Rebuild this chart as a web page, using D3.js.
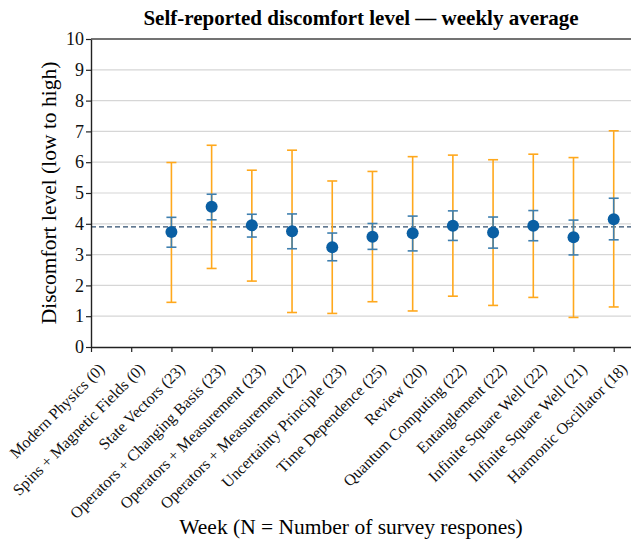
<!DOCTYPE html>
<html>
<head>
<meta charset="utf-8">
<script src="https://cdn.jsdelivr.net/npm/d3@7"></script>
<style>
  body { margin: 0; background: #fff; }
</style>
</head>
<body>
<div id="chart"></div>
<script>
const weeks = ['Modern Physics (0)', 'Spins + Magnetic Fields (0)', 'State Vectors (23)',
  'Operators + Changing Basis (23)', 'Operators + Measurement (23)', 'Operators + Measurement (22)',
  'Uncertainty Principle (23)', 'Time Dependence (25)', 'Review (20)', 'Quantum Computing (22)',
  'Entanglement (22)', 'Infinite Square Well (22)', 'Infinite Square Well (21)', 'Harmonic Oscillator (18)'];

// mean, standard error (blue) and standard deviation (orange) ranges
const means   = [null, null, 3.73, 4.55, 3.95, 3.76, 3.24, 3.58, 3.69, 3.94, 3.72, 3.94, 3.56, 4.15];
const seLow   = [null, null, 3.24, 4.13, 3.57, 3.19, 2.80, 3.17, 3.12, 3.46, 3.21, 3.45, 2.99, 3.48];
const seHigh  = [null, null, 4.21, 4.96, 4.31, 4.32, 3.70, 4.01, 4.25, 4.42, 4.22, 4.43, 4.12, 4.83];
const sdLow   = [null, null, 1.45, 2.55, 2.14, 1.12, 1.09, 1.47, 1.17, 1.65, 1.35, 1.61, 0.96, 1.30];
const sdHigh  = [null, null, 5.99, 6.55, 5.74, 6.39, 5.39, 5.70, 6.18, 6.23, 6.08, 6.26, 6.15, 7.02];
const overallMean = 3.90;
const yTicks = d3.range(0, 11);

const FONT = '"Liberation Serif", "DejaVu Serif", serif';
const width = 631, height = 539;
const margin = { top: 39, right: 0, bottom: 192, left: 91 };
const plotW = width - margin.left - margin.right;
const plotH = height - margin.top - margin.bottom;

const svg = d3.select('#chart').append('svg')
  .attr('width', width)
  .attr('height', height)
  .attr('font-family', FONT);

const g = svg.append('g')
  .attr('transform', `translate(${margin.left}, ${margin.top})`);

const x = d3.scaleLinear().domain([0, 13.43]).range([0, plotW]);
const y = d3.scaleLinear().domain([0, 10]).range([plotH, 0]);

// grid
g.selectAll('.grid')
  .data(yTicks.filter(d => d > 0 && d < 10))
  .enter().append('line')
  .attr('x1', 0).attr('x2', plotW)
  .attr('y1', d => y(d)).attr('y2', d => y(d))
  .attr('stroke', '#d6d6d6').attr('stroke-width', 1.2);

// overall mean
g.append('line')
  .attr('x1', 0).attr('x2', plotW)
  .attr('y1', y(overallMean)).attr('y2', y(overallMean))
  .attr('stroke', '#2e4d6e').attr('stroke-width', 1.4)
  .attr('stroke-dasharray', '5,3');

const pts = weeks.map((w, i) => ({ i, m: means[i], sl: seLow[i], sh: seHigh[i], dl: sdLow[i], dh: sdHigh[i] }))
  .filter(d => d.m !== null);

function errorBars(lo, hi, color, width) {
  const eb = g.append('g');
  eb.selectAll('.v').data(pts).enter().append('line')
    .attr('x1', d => x(d.i)).attr('x2', d => x(d.i))
    .attr('y1', d => y(d[lo])).attr('y2', d => y(d[hi]))
    .attr('stroke', color).attr('stroke-width', width);
  [lo, hi].forEach(k => {
    eb.selectAll('.c' + k).data(pts).enter().append('line')
      .attr('x1', d => x(d.i) - 5).attr('x2', d => x(d.i) + 5)
      .attr('y1', d => y(d[k])).attr('y2', d => y(d[k]))
      .attr('stroke', color).attr('stroke-width', width);
  });
}
errorBars('dl', 'dh', '#ffa81c', 1.6);
errorBars('sl', 'sh', '#3f7fae', 1.6);

g.selectAll('.dot').data(pts).enter().append('circle')
  .attr('cx', d => x(d.i)).attr('cy', d => y(d.m))
  .attr('r', 6).attr('fill', '#0a5fa3');

// axes
const yAxis = d3.axisLeft(y).tickValues(yTicks).tickSize(5).tickSizeOuter(0);
const yG = g.append('g').call(yAxis);
yG.selectAll('text').style('font-size', '18px').attr('fill', '#111').attr('x', -7);

const xAxis = d3.axisBottom(x).tickValues(d3.range(0, 14)).tickFormat(i => weeks[i]).tickSize(5).tickSizeOuter(0);
const xG = g.append('g').attr('transform', `translate(0, ${plotH})`).call(xAxis);
xG.selectAll('text')
  .style('font-size', '16px').attr('fill', '#111')
  .style('text-anchor', 'end')
  .attr('x', 0).attr('y', 0).attr('dx', 0).attr('dy', 0)
  .attr('transform', 'translate(14,23) rotate(-45)');

[yG, xG].forEach(a => {
  a.attr('font-family', FONT);
  a.select('.domain').attr('stroke', '#222').attr('stroke-width', 1.4);
  a.selectAll('.tick line').attr('stroke', '#222').attr('stroke-width', 1.2);
});

// top spine
g.append('line').attr('x1', 0).attr('x2', plotW).attr('y1', 0).attr('y2', 0)
  .attr('stroke', '#444').attr('stroke-width', 1.4);

svg.append('text')
  .attr('x', margin.left + plotW / 2).attr('y', 25)
  .attr('text-anchor', 'middle')
  .style('font-size', '21px').style('font-weight', 'bold')
  .text('Self-reported discomfort level \u2014 weekly average');

svg.append('text')
  .attr('transform', `translate(56, ${margin.top + plotH / 2}) rotate(-90)`)
  .attr('text-anchor', 'middle')
  .style('font-size', '21.5px')
  .text('Discomfort level (low to high)');

svg.append('text')
  .attr('x', margin.left + plotW / 2 - 10).attr('y', 534)
  .attr('text-anchor', 'middle')
  .style('font-size', '21.5px')
  .text('Week (N = Number of survey respones)');
</script>
</body>
</html>
